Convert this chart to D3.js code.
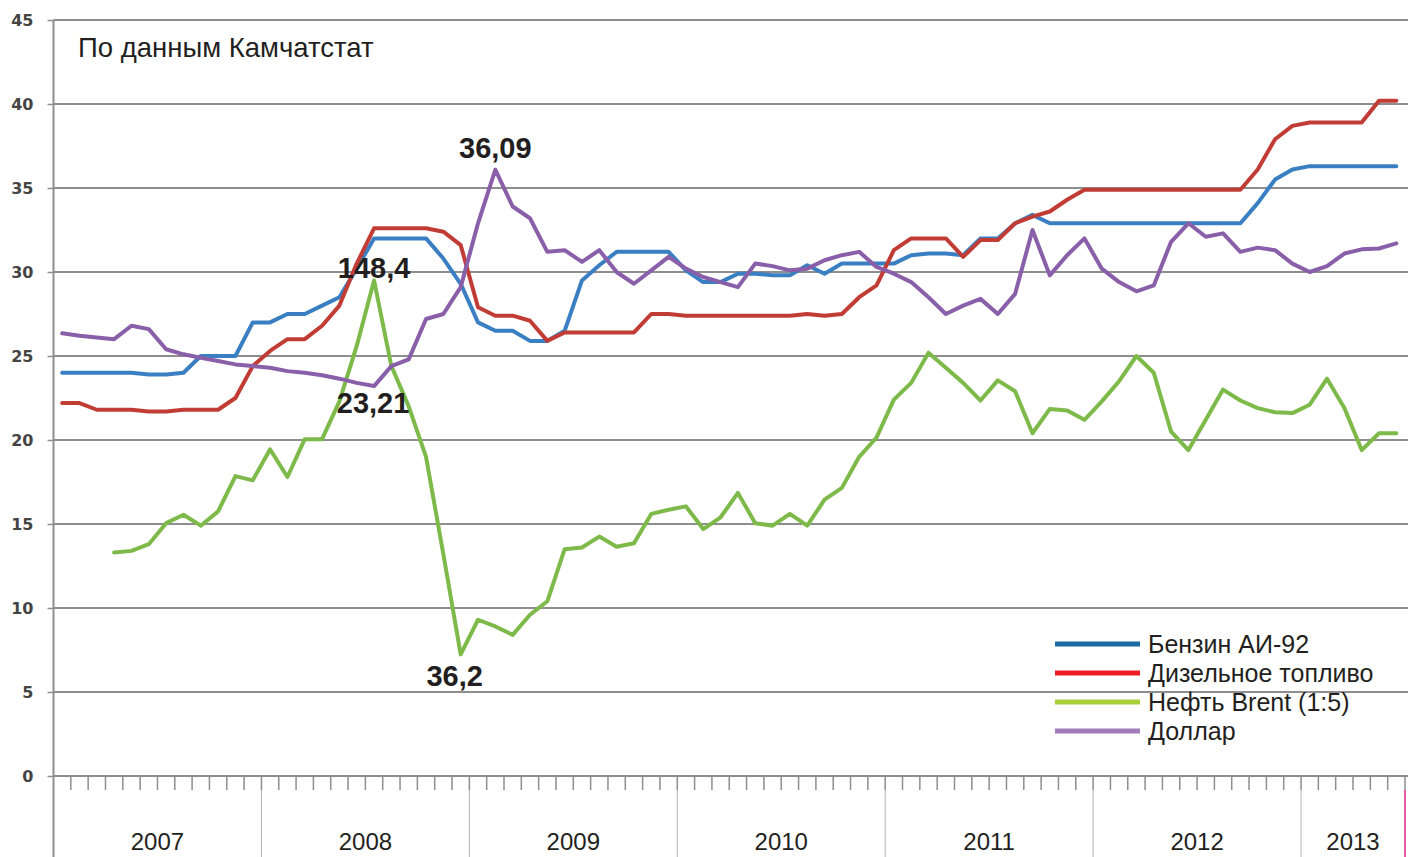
<!DOCTYPE html>
<html>
<head>
<meta charset="utf-8">
<script src="https://cdn.jsdelivr.net/npm/d3@7"></script>
<style>
  html, body { margin: 0; padding: 0; background: #ffffff; }
  svg { display: block; }
</style>
</head>
<body>
<svg id="chart" width="1413" height="857"></svg>
<script>
// ---------- DATA ----------
const years = ["2007", "2008", "2009", "2010", "2011", "2012", "2013"];
const monthsPerYear = [12, 12, 12, 12, 12, 12, 6];
const yTicks = [0, 5, 10, 15, 20, 25, 30, 35, 40, 45];
const seriesNames = ["Бензин АИ-92", "Дизельное топливо", "Нефть Brent (1:5)", "Доллар"];

const benzin = [
  24.0, 24.0, 24.0, 24.0, 24.0, 23.9, 23.9, 24.0, 25.0, 25.0, 25.0, 27.0,
  27.0, 27.5, 27.5, 28.0, 28.5, 30.2, 32.0, 32.0, 32.0, 32.0, 30.8, 29.3,
  27.0, 26.5, 26.5, 25.9, 25.9, 26.5, 29.5, 30.4, 31.2, 31.2, 31.2, 31.2,
  30.1, 29.4, 29.4, 29.9, 29.9, 29.8, 29.8, 30.4, 29.9, 30.5, 30.5, 30.5,
  30.5, 31.0, 31.1, 31.1, 31.0, 32.0, 32.0, 32.9, 33.4, 32.9, 32.9, 32.9,
  32.9, 32.9, 32.9, 32.9, 32.9, 32.9, 32.9, 32.9, 32.9, 34.1, 35.5, 36.1,
  36.3, 36.3, 36.3, 36.3, 36.3, 36.3
];
const diesel = [
  22.2, 22.2, 21.8, 21.8, 21.8, 21.7, 21.7, 21.8, 21.8, 21.8, 22.5, 24.4,
  25.3, 26.0, 26.0, 26.8, 28.0, 30.5, 32.6, 32.6, 32.6, 32.6, 32.4, 31.6,
  27.9, 27.4, 27.4, 27.1, 25.9, 26.4, 26.4, 26.4, 26.4, 26.4, 27.5, 27.5,
  27.4, 27.4, 27.4, 27.4, 27.4, 27.4, 27.4, 27.5, 27.4, 27.5, 28.5, 29.2,
  31.3, 32.0, 32.0, 32.0, 30.9, 31.9, 31.9, 32.9, 33.3, 33.6, 34.3, 34.9,
  34.9, 34.9, 34.9, 34.9, 34.9, 34.9, 34.9, 34.9, 34.9, 36.1, 37.9, 38.7,
  38.9, 38.9, 38.9, 38.9, 40.2, 40.2
];
const brent = [
  null, null, null, 13.3, 13.4, 13.8, 15.05, 15.55, 14.9, 15.75, 17.85, 17.6,
  19.45, 17.8, 20.05, 20.05, 22.3, 25.6, 29.5, 24.4, 22.0, 19.0, 13.2, 7.24,
  9.3, 8.9, 8.4, 9.6, 10.4, 13.5, 13.6, 14.25, 13.65, 13.85, 15.6, 15.85,
  16.05, 14.7, 15.4, 16.85, 15.05, 14.9, 15.6, 14.9, 16.45, 17.15, 19.0, 20.15,
  22.4, 23.4, 25.2, 24.3, 23.4, 22.35, 23.55, 22.9, 20.4, 21.85, 21.75, 21.2,
  22.3, 23.5, 25.0, 24.0, 20.5, 19.4, 21.2, 23.0, 22.35, 21.9, 21.65, 21.6,
  22.1, 23.65, 21.9, 19.4, 20.4, 20.4
];
const dollar = [
  26.35, 26.2, 26.1, 26.0, 26.8, 26.6, 25.4, 25.1, 24.9, 24.7, 24.5, 24.4,
  24.3, 24.1, 24.0, 23.85, 23.65, 23.4, 23.21, 24.4, 24.8, 27.2, 27.5, 29.1,
  32.9, 36.09, 33.9, 33.2, 31.2, 31.3, 30.6, 31.3, 30.0, 29.3, 30.1, 30.9,
  30.2, 29.7, 29.4, 29.1, 30.5, 30.35, 30.1, 30.2, 30.7, 31.0, 31.2, 30.3,
  29.9, 29.4, 28.5, 27.5, 28.0, 28.4, 27.5, 28.7, 32.5, 29.8, 31.0, 32.0,
  30.2, 29.4, 28.85, 29.2, 31.8, 32.9, 32.1, 32.3, 31.2, 31.45, 31.3, 30.5,
  30.0, 30.35, 31.1, 31.35, 31.4, 31.7
];

const annotationTexts = ["148,4", "23,21", "36,09", "36,2"];
const annotationSeries = [2, 3, 3, 2];
const annotationMonths = ["2008-07", "2008-07", "2009-02", "2008-12"];
const sourceNote = "По данным Камчатстат";

// ---------- BUILD ----------
const categories = years.flatMap((yr, k) =>
  d3.range(monthsPerYear[k]).map(m => `${yr}-${String(m + 1).padStart(2, "0")}`));
const seriesValues = [benzin, diesel, brent, dollar];
const lineColors = ["#3a7fc2", "#c23c36", "#7dba4a", "#8a5fa9"];
const legendColors = ["#1b6aa1", "#ec1c24", "#a8cf3a", "#a07cbc"];

const svg = d3.select("#chart");
const plotLeft = 53.5, plotRight = 1405, plotTop = 20, plotBottom = 776;

const xs = d3.scaleBand().domain(categories).range([plotLeft, plotRight]).padding(0);
const ys = d3.scaleLinear().domain([0, 45]).range([plotBottom, plotTop]);
const cx = c => xs(c) + xs.bandwidth() / 2;

// gridlines
svg.append("g")
  .selectAll("line").data(yTicks.filter(t => t > 0)).join("line")
  .attr("x1", plotLeft).attr("x2", 1408)
  .attr("y1", d => ys(d)).attr("y2", d => ys(d))
  .attr("stroke", "#8e8e8e").attr("stroke-width", 2);

// y axis
const yAxis = d3.axisLeft(ys).tickValues(yTicks).tickSize(6).tickPadding(14)
  .tickFormat(d => String(d));
const gy = svg.append("g").attr("transform", `translate(${plotLeft},0)`).call(yAxis);
gy.select(".domain").remove();
gy.selectAll(".tick line").attr("stroke", "#8e8e8e").attr("stroke-width", 1.5);
gy.selectAll(".tick text")
  .attr("font-family", "'DejaVu Sans', Verdana, sans-serif")
  .attr("font-size", 16).attr("font-weight", "bold").attr("fill", "#444444");

// vertical axis line (extends through category area)
svg.append("line").attr("x1", plotLeft).attr("x2", plotLeft).attr("y1", plotTop).attr("y2", 857)
  .attr("stroke", "#8e8e8e").attr("stroke-width", 2);

// x axis line
svg.append("line").attr("x1", plotLeft).attr("x2", 1408).attr("y1", plotBottom).attr("y2", plotBottom)
  .attr("stroke", "#8e8e8e").attr("stroke-width", 2);

// month ticks at category boundaries
const boundaries = categories.slice(1).map(c => xs(c)).concat([plotRight]);
svg.append("g").selectAll("line").data(boundaries).join("line")
  .attr("x1", d => d).attr("x2", d => d)
  .attr("y1", plotBottom).attr("y2", plotBottom + 14)
  .attr("stroke", "#8e8e8e").attr("stroke-width", 1.5);

// year separators + labels
const yearStarts = years.map(yr => `${yr}-01`);
svg.append("g").selectAll("line").data(yearStarts.slice(1)).join("line")
  .attr("x1", d => xs(d)).attr("x2", d => xs(d))
  .attr("y1", plotBottom + 14).attr("y2", 857)
  .attr("stroke", "#b4b4b4").attr("stroke-width", 1);
svg.append("line").attr("x1", plotRight).attr("x2", plotRight).attr("y1", plotBottom + 14).attr("y2", 857)
  .attr("stroke", "#e0218a").attr("stroke-width", 1.5);

svg.append("g").selectAll("text").data(years).join("text")
  .attr("x", (yr, k) => {
    const first = `${yr}-01`;
    const last = `${yr}-${String(monthsPerYear[k]).padStart(2, "0")}`;
    return (xs(first) + xs(last) + xs.bandwidth()) / 2;
  })
  .attr("y", 850)
  .attr("text-anchor", "middle")
  .attr("font-family", "'Liberation Sans', Arial, sans-serif")
  .attr("font-size", 24).attr("fill", "#231f20")
  .text(d => d);

// lines
const lineGen = d3.line()
  .defined(d => d.v !== null)
  .x(d => cx(d.c)).y(d => ys(d.v));

seriesValues.forEach((vals, k) => {
  const pts = categories.map((c, i) => ({ c, v: vals[i] }));
  svg.append("path").datum(pts)
    .attr("d", lineGen)
    .attr("fill", "none")
    .attr("stroke", lineColors[k])
    .attr("stroke-width", 4)
    .attr("stroke-linejoin", "round")
    .attr("stroke-linecap", "round");
});

// annotations
const annOffsets = [[0, -2], [-1, 27], [0, -12], [-6, 32]];
svg.append("g").selectAll("text").data(annotationTexts).join("text")
  .attr("x", (t, k) => cx(annotationMonths[k]) + annOffsets[k][0])
  .attr("y", (t, k) => {
    const idx = categories.indexOf(annotationMonths[k]);
    return ys(seriesValues[annotationSeries[k]][idx]) + annOffsets[k][1];
  })
  .attr("text-anchor", "middle")
  .attr("font-family", "'Liberation Sans', Arial, sans-serif")
  .attr("font-size", 29).attr("font-weight", "bold").attr("fill", "#231f20")
  .text(d => d);

// source note
svg.append("text").attr("x", 78).attr("y", 57)
  .attr("font-family", "'Liberation Sans', Arial, sans-serif")
  .attr("font-size", 27.5).attr("fill", "#231f20")
  .text(sourceNote);

// legend
const lg = svg.append("g").attr("transform", "translate(1055,644)");
const items = lg.selectAll("g").data(seriesNames).join("g")
  .attr("transform", (d, i) => `translate(0,${i * 29})`);
items.append("line").attr("x1", 0).attr("x2", 85).attr("y1", 0).attr("y2", 0)
  .attr("stroke", (d, i) => legendColors[i]).attr("stroke-width", 5);
items.append("text").attr("x", 93).attr("y", 0).attr("dy", "0.36em")
  .attr("font-family", "'Liberation Sans', Arial, sans-serif")
  .attr("font-size", 25).attr("fill", "#231f20")
  .text(d => d);
</script>
</body>
</html>
